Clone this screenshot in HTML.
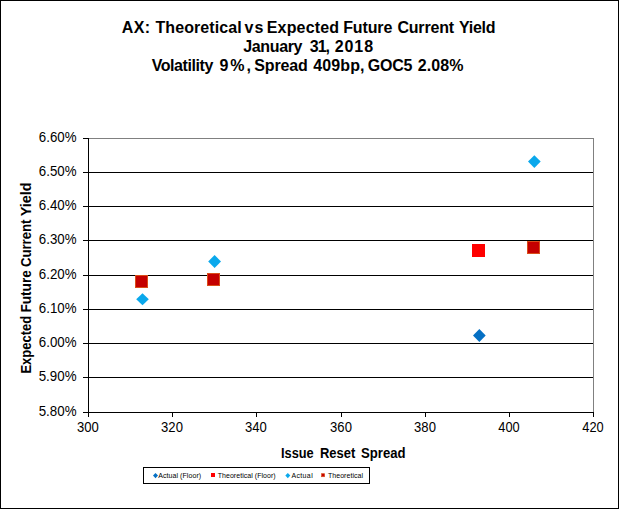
<!DOCTYPE html>
<html>
<head>
<meta charset="utf-8">
<title>AX: Theoretical vs Expected Future Current Yield</title>
<style>
html,body{margin:0;padding:0;background:#fff;}
body{width:619px;height:509px;overflow:hidden;}
svg{display:block;}
text{font-family:"Liberation Sans",Arial,sans-serif;fill:#000;}
.t{font-weight:bold;font-size:16px;}
.ax{font-weight:bold;font-size:14px;}
.tk{font-size:14px;}
.lg{font-size:7px;}
</style>
</head>
<body>
<svg width="619" height="509" viewBox="0 0 619 509">
<rect x="0" y="0" width="619" height="509" fill="#fff"/>
<!-- outer frame -->
<rect x="0.5" y="0.5" width="618" height="508" fill="none" stroke="#000" stroke-width="1" shape-rendering="crispEdges"/>

<!-- title -->
<text class="t" y="32.5"><tspan x="121.7" textLength="28.3" lengthAdjust="spacing">AX:</tspan> <tspan x="155.5" textLength="86.1" lengthAdjust="spacing">Theoretical</tspan> <tspan x="244.6" textLength="18.8" lengthAdjust="spacing">vs</tspan> <tspan x="266.8" textLength="72.2" lengthAdjust="spacing">Expected</tspan> <tspan x="343.2" textLength="49.1" lengthAdjust="spacing">Future</tspan> <tspan x="397.4" textLength="56.7" lengthAdjust="spacing">Current</tspan> <tspan x="459.0" textLength="36.5" lengthAdjust="spacing">Yield</tspan></text>
<text class="t" y="51.5"><tspan x="243.3" textLength="59.1" lengthAdjust="spacing">January</tspan> <tspan x="309.8" textLength="20.2" lengthAdjust="spacing">31,</tspan> <tspan x="334.7" textLength="38.4" lengthAdjust="spacing">2018</tspan></text>
<text class="t" y="70.5"><tspan x="151.7" textLength="61.6" lengthAdjust="spacing">Volatility</tspan> <tspan x="219.6" textLength="31.3" lengthAdjust="spacing">9%,</tspan> <tspan x="254.2" textLength="53.6" lengthAdjust="spacing">Spread</tspan> <tspan x="313.2" textLength="51.3" lengthAdjust="spacing">409bp,</tspan> <tspan x="367.8" textLength="44.6" lengthAdjust="spacing">GOC5</tspan> <tspan x="417.7" textLength="45.7" lengthAdjust="spacing">2.08%</tspan></text>

<!-- plot area border (gray) -->
<g shape-rendering="crispEdges" fill="none">
<path d="M88.5 138.5H593.5V412.5" stroke="#808080" stroke-width="1"/>
<!-- gridlines -->
<g stroke="#000" stroke-width="1">
<path d="M88 172.5H593"/>
<path d="M88 206.5H593"/>
<path d="M88 240.5H593"/>
<path d="M88 275.5H593"/>
<path d="M88 309.5H593"/>
<path d="M88 343.5H593"/>
<path d="M88 377.5H593"/>
<!-- axes -->
<path d="M88.5 138V417"/>
<path d="M83 412.5H594"/>
<!-- y ticks -->
<path d="M83 138.5H89M83 172.5H89M83 206.5H89M83 240.5H89M83 275.5H89M83 309.5H89M83 343.5H89M83 377.5H89"/>
<!-- x ticks -->
<path d="M172.5 412V417M256.5 412V417M341.5 412V417M425.5 412V417M509.5 412V417M593.5 412V417"/>
</g>
</g>

<!-- y tick labels -->
<g class="tk">
<text x="38.8" y="142" textLength="37.7" lengthAdjust="spacingAndGlyphs">6.60%</text>
<text x="38.8" y="176" textLength="37.7" lengthAdjust="spacingAndGlyphs">6.50%</text>
<text x="38.8" y="210" textLength="37.7" lengthAdjust="spacingAndGlyphs">6.40%</text>
<text x="38.8" y="244" textLength="37.7" lengthAdjust="spacingAndGlyphs">6.30%</text>
<text x="38.8" y="279" textLength="37.7" lengthAdjust="spacingAndGlyphs">6.20%</text>
<text x="38.8" y="313" textLength="37.7" lengthAdjust="spacingAndGlyphs">6.10%</text>
<text x="38.8" y="347" textLength="37.7" lengthAdjust="spacingAndGlyphs">6.00%</text>
<text x="38.7" y="381" textLength="37.8" lengthAdjust="spacingAndGlyphs">5.90%</text>
<text x="38.7" y="416" textLength="37.8" lengthAdjust="spacingAndGlyphs">5.80%</text>
</g>
<!-- x tick labels -->
<g class="tk">
<text x="76.9" y="432" textLength="21.8" lengthAdjust="spacingAndGlyphs">300</text>
<text x="161.1" y="432" textLength="21.8" lengthAdjust="spacingAndGlyphs">320</text>
<text x="245.0" y="432" textLength="21.8" lengthAdjust="spacingAndGlyphs">340</text>
<text x="330.1" y="432" textLength="21.8" lengthAdjust="spacingAndGlyphs">360</text>
<text x="414.1" y="432" textLength="21.8" lengthAdjust="spacingAndGlyphs">380</text>
<text x="498.3" y="432" textLength="21.4" lengthAdjust="spacingAndGlyphs">400</text>
<text x="582.3" y="432" textLength="21.4" lengthAdjust="spacingAndGlyphs">420</text>
</g>

<!-- axis titles -->
<text class="ax" y="458"><tspan x="281.0" textLength="32.7" lengthAdjust="spacingAndGlyphs">Issue</tspan> <tspan x="320.0" textLength="35.3" lengthAdjust="spacingAndGlyphs">Reset</tspan> <tspan x="361.1" textLength="44.5" lengthAdjust="spacingAndGlyphs">Spread</tspan></text>
<text class="ax" transform="translate(31 0) rotate(-90)" y="0"><tspan x="-373.6" textLength="57.8" lengthAdjust="spacingAndGlyphs">Expected</tspan> <tspan x="-312.6" textLength="42.4" lengthAdjust="spacingAndGlyphs">Future</tspan> <tspan x="-267.1" textLength="47.6" lengthAdjust="spacingAndGlyphs">Current</tspan> <tspan x="-216.3" textLength="34.0" lengthAdjust="spacingAndGlyphs">Yield</tspan></text>

<!-- data: Actual (light blue diamonds) -->
<g fill="#0AA8EC">
<path d="M142.5 293.2L148.8 299.2L142.5 305.2L136.2 299.2Z"/>
<path d="M214.6 255L221 261.4L214.6 267.9L208.2 261.4Z"/>
<path d="M534.35 155.2L540.7 161.6L534.35 167.9L528 161.6Z"/>
</g>
<!-- Actual (Floor) dark blue diamond -->
<path d="M479.35 329L485.7 335.4L479.35 341.9L473 335.4Z" fill="#0570C4"/>
<!-- Theoretical (dark red squares with orange edge) -->
<g fill="#C40000" stroke="#DA4E1A" stroke-width="1">
<rect x="135.5" y="275.5" width="12" height="12"/>
<rect x="207.5" y="273.5" width="12" height="12"/>
<rect x="527.5" y="241.5" width="12" height="12"/>
</g>
<!-- Theoretical (Floor) bright red square -->
<rect x="472" y="244" width="13" height="13" fill="#FF0000"/>

<!-- legend -->
<rect x="143.5" y="467.5" width="226" height="16" fill="#fff" stroke="#000" stroke-width="1" shape-rendering="crispEdges"/>
<path d="M155.5 473L158 475.6L155.5 478.2L153 475.6Z" fill="#0570C4"/>
<text class="lg" x="158.2" y="478" textLength="43" lengthAdjust="spacing">Actual (Floor)</text>
<rect x="211" y="473" width="4" height="4" fill="#FF0000"/>
<text class="lg" x="217.7" y="478" textLength="58" lengthAdjust="spacing">Theoretical (Floor)</text>
<path d="M287.8 473L290.3 475.6L287.8 478.2L285.3 475.6Z" fill="#0AA8EC"/>
<text class="lg" x="291.4" y="478" textLength="21.3" lengthAdjust="spacing">Actual</text>
<rect x="321.6" y="473.7" width="3" height="3" fill="#C40000" stroke="#DA4E1A" stroke-width="0.7"/>
<text class="lg" x="328" y="478" textLength="35" lengthAdjust="spacing">Theoretical</text>
</svg>
</body>
</html>
